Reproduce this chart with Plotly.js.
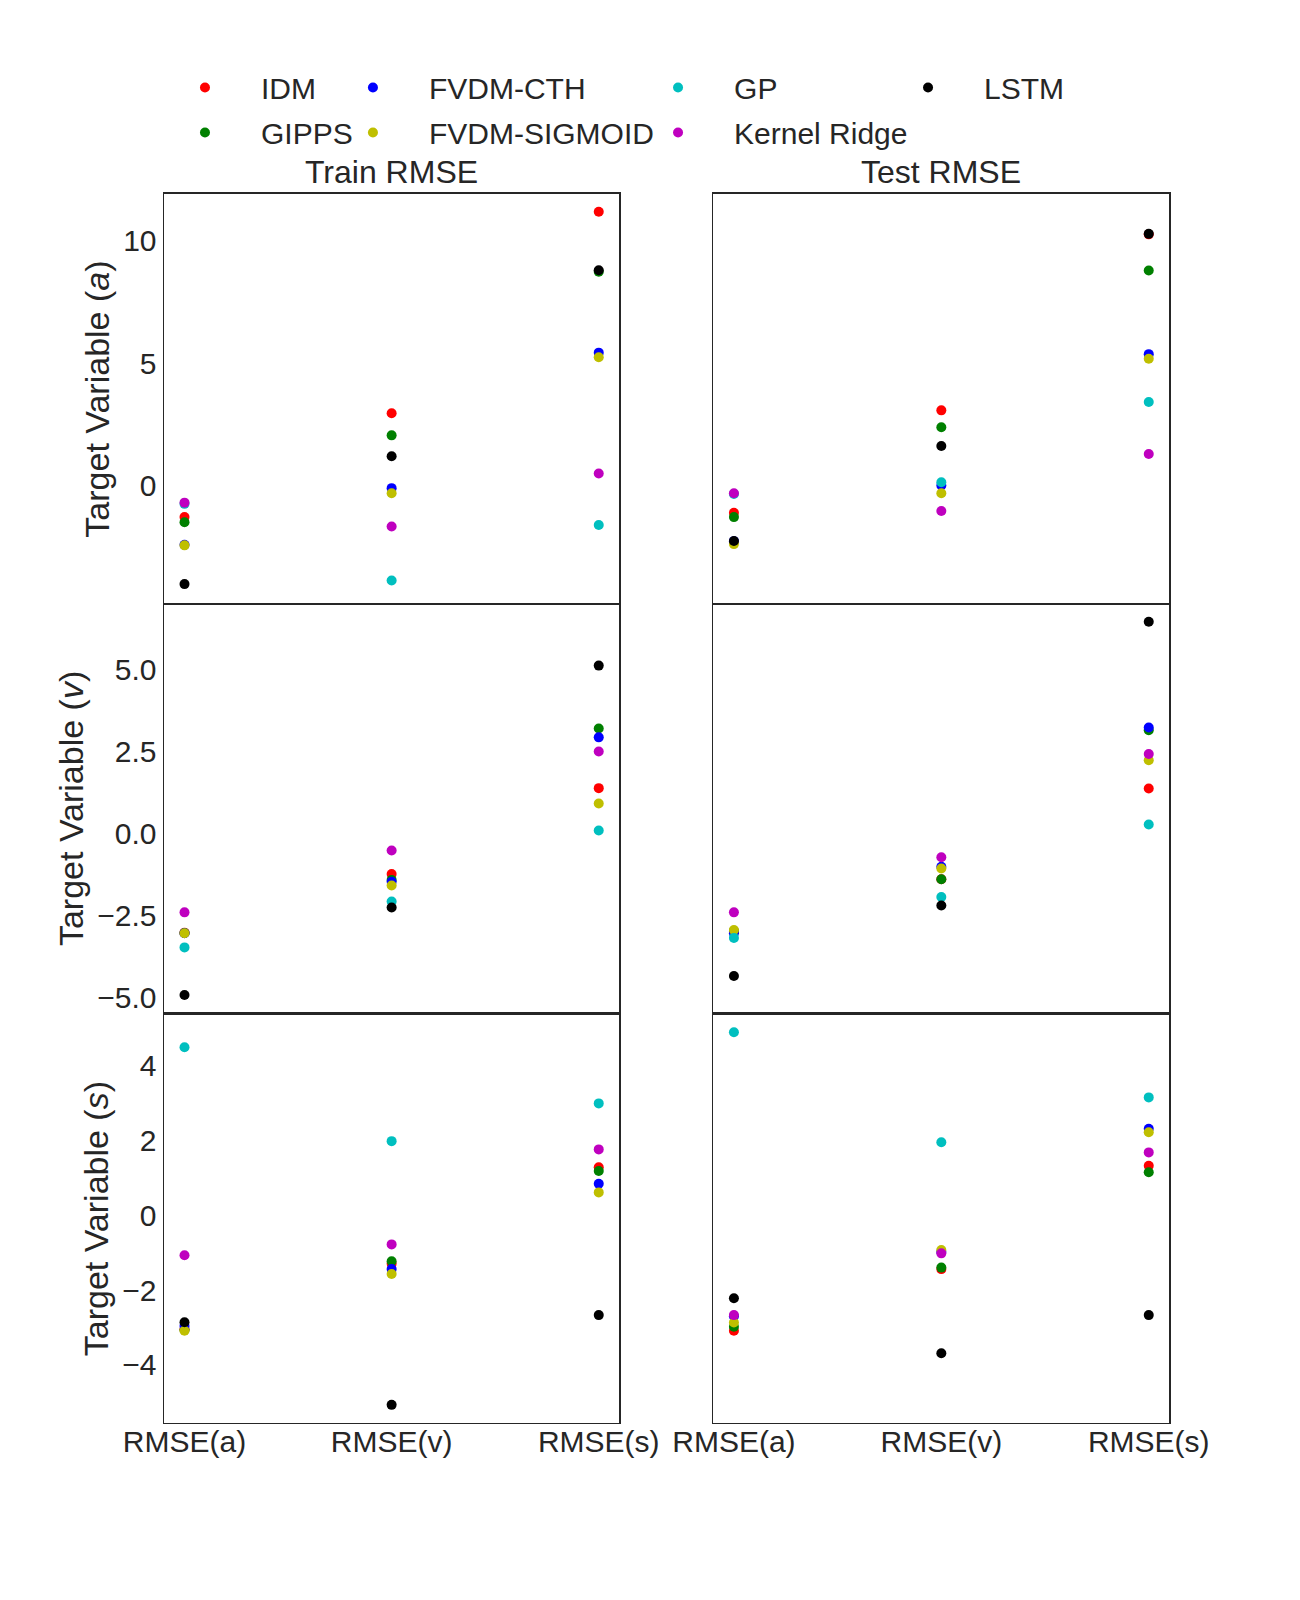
<!DOCTYPE html>
<html>
<head>
<meta charset="utf-8">
<script src="https://cdn.plot.ly/plotly-3.0.1.min.js"></script>
<style>body{margin:0;background:#fff}</style>
</head>
<body>
<div id="myDiv" style="width:1300px;height:1600px"></div>
<script>
// Categorías del eje x y nombres de los modelos
const metrics = ["RMSE(a)", "RMSE(v)", "RMSE(s)"];
const models = ["IDM", "GIPPS", "FVDM-CTH", "FVDM-SIGMOID", "GP", "Kernel Ridge", "LSTM"];
const colors = ["#ff0000", "#008000", "#0000ff", "#bfbf00", "#00bfbf", "#bf00bf", "#000000"];
const rowTitles = ["Target Variable (<i>a</i>)", "Target Variable (<i>v</i>)", "Target Variable (<i>s</i>)"];
const panelTitles = ["Train RMSE", "Test RMSE"];

// Filas: variable objetivo a, v, s ; columnas: RMSE(a), RMSE(v), RMSE(s)
const idmTrain = [[-1.27, 2.96, 11.17], [-3.03, -1.24, 1.38], [-3.05, -1.30, 1.28]];
const gippsTrain = [[-1.48, 2.06, 8.73], [-3.04, -1.42, 3.20], [-3.07, -1.23, 1.18]];
const cthTrain = [[-2.40, -0.09, 5.43], [-3.05, -1.48, 2.93], [-2.96, -1.44, 0.84]];
const sigmoidTrain = [[-2.42, -0.30, 5.24], [-3.05, -1.59, 0.91], [-3.09, -1.57, 0.61]];
const gpTrain = [[-0.73, -3.85, -1.59], [-3.48, -2.08, 0.09], [4.49, 1.98, 2.99]];
const krTrain = [[-0.68, -1.65, 0.51], [-2.41, -0.52, 2.50], [-1.07, -0.78, 1.76]];
const lstmTrain = [[-4.00, 1.21, 8.79], [-4.93, -2.26, 5.12], [-2.86, -5.07, -2.67]];

const idmTest = [[-1.09, 3.08, 10.25], [-3.00, -1.40, 1.37], [-3.09, -1.44, 1.32]];
const gippsTest = [[-1.27, 2.39, 8.78], [-2.98, -1.40, 3.15], [-2.98, -1.40, 1.15]];
const cthTest = [[-2.25, 0.02, 5.37], [-3.05, -1.02, 3.23], [-2.70, -0.98, 2.31]];
const sigmoidTest = [[-2.37, -0.30, 5.18], [-2.95, -1.07, 2.23], [-2.87, -0.93, 2.22]];
const gpTest = [[-0.33, 0.15, 3.42], [-3.19, -1.94, 0.27], [4.89, 1.95, 3.15]];
const krTest = [[-0.30, -1.02, 1.30], [-2.41, -0.73, 2.42], [-2.67, -1.02, 1.68]];
const lstmTest = [[-2.24, 1.63, 10.27], [-4.35, -2.20, 6.46], [-2.22, -3.69, -2.67]];

// Marcas del eje y por fila
const yTickVals = [[0, 5, 10], [-5, -2.5, 0, 2.5, 5], [-4, -2, 0, 2, 4]];
const yTickText = [["0", "5", "10"], ["\u22125.0", "\u22122.5", "0.0", "2.5", "5.0"], ["\u22124", "\u22122", "0", "2", "4"]];

const trainData = [idmTrain, gippsTrain, cthTrain, sigmoidTrain, gpTrain, krTrain, lstmTrain];
const testData = [idmTest, gippsTest, cthTest, sigmoidTest, gpTest, krTest, lstmTest];

// Leyenda en 4 columnas (orden por columnas como matplotlib)
const legendOf = ["legend", "legend", "legend2", "legend2", "legend3", "legend3", "legend4"];

const font = { family: "Liberation Sans, Arial, sans-serif", size: 30, color: "#262626" };
const labelFont = { family: "Liberation Sans, Arial, sans-serif", size: 34, color: "#262626" };
const titleFont = { family: "Liberation Sans, Arial, sans-serif", size: 32, color: "#262626" };
const xDomains = [[0.126, 0.4765], [0.5486, 0.8996]];
const yDomains = [[0.6225, 0.879], [0.3665, 0.6225], [0.1105, 0.3665]];
const yRanges = [[-4.81, 11.91], [-5.5, 7.0], [-5.56, 5.39]];

var data = [];
models.forEach((name, m) => {
  [trainData, testData].forEach((split, c) => {
    for (let r = 0; r < 3; r++) {
      const n = r * 2 + c + 1;
      data.push({
        type: "scatter",
        mode: "markers",
        name: name,
        x: metrics,
        y: split[m][r],
        xaxis: n === 1 ? "x" : "x" + n,
        yaxis: n === 1 ? "y" : "y" + n,
        marker: { color: colors[m], size: 10 },
        legendgroup: name,
        legend: legendOf[m],
        showlegend: c === 0 && r === 0,
        hoverinfo: "name+y",
      });
    }
  });
});

var layout = {
  width: 1300,
  height: 1600,
  margin: { l: 0, r: 0, t: 0, b: 0 },
  paper_bgcolor: "#fff",
  plot_bgcolor: "#fff",
  font: font,
  annotations: [],
};

for (let r = 0; r < 3; r++) {
  for (let c = 0; c < 2; c++) {
    const n = r * 2 + c + 1;
    const sfx = n === 1 ? "" : String(n);
    layout["xaxis" + sfx] = {
      domain: xDomains[c],
      anchor: "y" + sfx,
      type: "category",
      range: [-0.1, 2.1],
      showline: true,
      mirror: true,
      linecolor: "#262626",
      linewidth: 1.25,
      ticks: "",
      showgrid: false,
      zeroline: false,
      showticklabels: r === 2,
      ticklabelstandoff: -8,
      tickfont: font,
      fixedrange: true,
    };
    layout["yaxis" + sfx] = {
      domain: yDomains[r],
      anchor: "x" + sfx,
      range: yRanges[r],
      showline: true,
      mirror: true,
      linecolor: "#262626",
      linewidth: 1.25,
      ticks: "",
      showgrid: false,
      zeroline: false,
      tickvals: yTickVals[r],
      ticktext: yTickText[r],
      showticklabels: c === 0,
      tickfont: font,
      fixedrange: true,
    };
  }
}

// Títulos de los ejes y
const yTitleX = [0.0745, 0.0548, 0.0745];
for (let r = 0; r < 3; r++) {
  layout.annotations.push({
    text: rowTitles[r],
    xref: "paper", yref: "paper",
    x: yTitleX[r], y: (yDomains[r][0] + yDomains[r][1]) / 2,
    xanchor: "center", yanchor: "middle",
    textangle: -90, showarrow: false, font: labelFont,
  });
}
// Títulos de los paneles
for (let c = 0; c < 2; c++) {
  layout.annotations.push({
    text: panelTitles[c],
    xref: "paper", yref: "paper",
    x: (xDomains[c][0] + xDomains[c][1]) / 2, y: 0.8925,
    xanchor: "center", yanchor: "middle",
    showarrow: false, font: titleFont,
  });
}

const legendX = [0.1146, 0.2438, 0.4785, 0.6708];
["legend", "legend2", "legend3", "legend4"].forEach((id, i) => {
  layout[id] = {
    x: legendX[i], y: 0.9616,
    xanchor: "left", yanchor: "top",
    orientation: "v",
    itemwidth: 102,
    tracegroupgap: 3,
    bgcolor: "rgba(0,0,0,0)",
    font: font,
  };
});

Plotly.newPlot("myDiv", data, layout, { displayModeBar: false, staticPlot: true });
</script>
</body>
</html>
